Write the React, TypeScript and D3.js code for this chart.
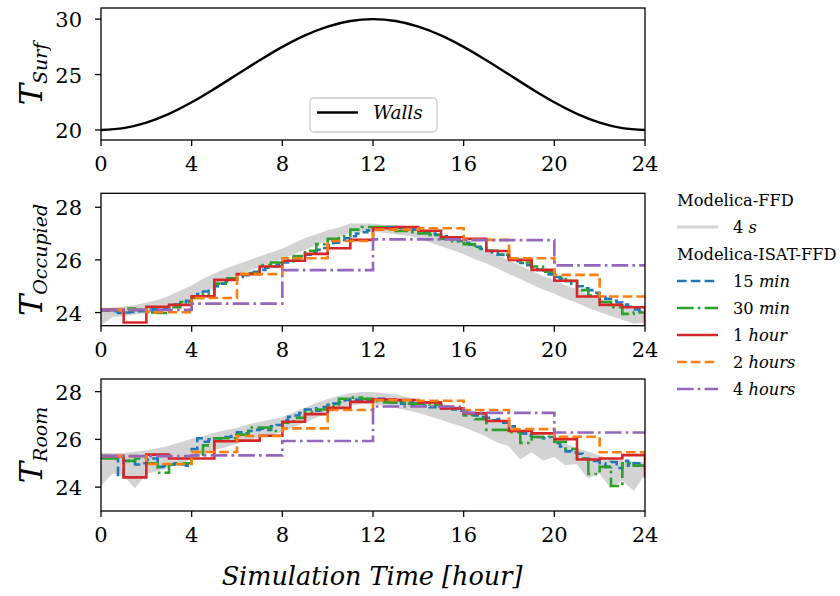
import React from "react";
import * as d3 from "d3";

// ---------------- DATA ----------------
const xTicks = [0, 4, 8, 12, 16, 20, 24];
const surfTicks = [20, 25, 30];
const tempTicks = [24, 26, 28];

// hourly wall surface temperature (0..24 h)
const wallsTemp = [20.0, 20.17, 20.67, 21.46, 22.5, 23.71, 25.0, 26.29, 27.5, 28.54, 29.33, 29.83, 30.0,
  29.83, 29.33, 28.54, 27.5, 26.29, 25.0, 23.71, 22.5, 21.46, 20.67, 20.17, 20.0];

// ---- Occupied zone ----
// Modelica-FFD 4 s: envelope every 0.5 h (0..24)
const occGrayUpper = [24.15, 24.15, 24.2, 24.25, 24.35, 24.45, 24.6, 24.8, 25.0, 25.25, 25.45, 25.65, 25.8, 25.95,
  26.1, 26.25, 26.4, 26.6, 26.8, 26.95, 27.1, 27.2, 27.35, 27.35, 27.35, 27.3, 27.3, 27.25, 27.15, 27.05, 26.95,
  26.8, 26.65, 26.5, 26.3, 26.15, 25.95, 25.75, 25.55, 25.35, 25.2, 25.0, 24.85, 24.65, 24.5, 24.35, 24.2, 24.1, 24.0];
const occGrayLower = [23.55, 23.85, 23.9, 23.95, 24.0, 24.1, 24.25, 24.4, 24.6, 24.8, 25.0, 25.25, 25.45, 25.6,
  25.75, 25.9, 26.05, 26.25, 26.4, 26.6, 26.75, 26.9, 27.05, 27.1, 27.1, 27.05, 27.0, 26.95, 26.85, 26.7, 26.55,
  26.4, 26.25, 26.05, 25.9, 25.7, 25.5, 25.3, 25.1, 24.9, 24.75, 24.55, 24.4, 24.2, 24.05, 23.9, 23.75, 23.6, 23.65];
// 15 min
const occ15 = [24.08, 24.08, 24.05, 23.98, 24.0, 24.02, 24.05, 24.05, 24.1, 24.12, 24.15, 24.18,
  24.25, 24.3, 24.38, 24.45, 24.6, 24.7, 24.8, 24.88, 25.0, 25.1, 25.18, 25.25, 25.35, 25.42, 25.5, 25.55,
  25.62, 25.7, 25.75, 25.82, 25.9, 26.0, 26.05, 26.12, 26.2, 26.3, 26.38, 26.45, 26.55, 26.65, 26.75, 26.82,
  26.9, 27.0, 27.05, 27.12, 27.18, 27.22, 27.25, 27.25, 27.22, 27.2, 27.18, 27.15, 27.1, 27.05, 27.0, 26.95,
  26.9, 26.85, 26.78, 26.72, 26.65, 26.58, 26.5, 26.42, 26.35, 26.28, 26.2, 26.12, 26.05, 25.95, 25.88, 25.8,
  25.72, 25.62, 25.55, 25.45, 25.35, 25.28, 25.2, 25.1, 25.0, 24.92, 24.85, 24.75, 24.6, 24.52, 24.45, 24.38,
  24.3, 24.22, 24.12, 24.05];
// 30 min
const occ30 = [24.1, 24.1, 24.15, 24.1, 24.0, 23.98, 24.2, 24.4, 24.55, 24.7, 25.1, 25.3, 25.45, 25.5, 25.8, 25.9,
  25.95, 26.15, 26.35, 26.6, 26.8, 26.9, 27.15, 27.25, 27.25, 27.2, 27.1, 27.05, 27.0, 26.95, 26.8, 26.7,
  26.6, 26.45, 26.35, 26.2, 26.05, 25.9, 25.75, 25.55, 25.35, 25.2, 24.85, 24.65, 24.4, 24.2, 23.95, 24.0];
// 1 hour (last value = level at 24 h)
const occ1h = [24.1, 23.62, 24.22, 24.29, 24.62, 25.24, 25.46, 25.75, 25.97, 26.23, 26.44, 26.76, 27.2, 27.25,
  27.11, 26.86, 26.8, 26.34, 26.0, 25.62, 25.21, 24.61, 24.29, 24.2, 23.4];
// 2 hours
const occ2h = [24.1, 24.01, 24.55, 25.46, 26.06, 26.72, 27.15, 27.2, 26.76, 26.06, 25.43, 24.61];
// 4 hours
const occ4h = [24.1, 24.34, 25.61, 26.78, 26.75, 25.79];

// ---- Room ----
const roomGrayUpper = [25.4, 25.4, 25.4, 25.45, 25.5, 25.6, 25.7, 25.85, 26.0, 26.1, 26.25, 26.35, 26.45, 26.6,
  26.7, 26.8, 26.9, 27.1, 27.3, 27.5, 27.65, 27.8, 27.9, 27.95, 27.95, 27.9, 27.85, 27.75, 27.65, 27.55, 27.45,
  27.4, 27.3, 27.15, 26.95, 26.75, 26.55, 26.4, 26.2, 26.1, 25.95, 25.8, 25.6, 25.45, 25.3, 25.15, 25.1, 25.05, 25.0];
const roomGrayLower = [24.1, 24.6, 24.5, 24.0, 24.6, 24.7, 24.85, 25.0, 25.2, 25.4, 25.6, 25.7, 25.85, 26.0,
  26.1, 26.2, 26.35, 26.55, 26.75, 26.95, 27.15, 27.35, 27.45, 27.5, 27.5, 27.45, 27.35, 27.25, 27.15, 27.0, 26.85,
  26.7, 26.55, 26.35, 26.15, 25.9, 25.75, 25.2, 25.5, 25.15, 25.3, 24.95, 25.0, 24.4, 24.6, 24.0, 24.3, 23.9, 24.6];
const room15 = [25.3, 25.3, 25.3, 24.45, 25.1, 25.1, 24.95, 25.0, 25.15, 25.2, 24.85, 24.9,
  24.95, 25.0, 24.95, 24.9, 25.6, 26.05, 25.9, 26.0, 26.05, 26.0, 26.1, 26.2, 26.3, 26.25, 26.35, 26.4,
  26.45, 26.4, 26.55, 26.6, 26.8, 26.95, 27.0, 27.1, 27.25, 27.3, 27.2, 27.35, 27.45, 27.5, 27.55, 27.65,
  27.7, 27.65, 27.7, 27.6, 27.65, 27.7, 27.6, 27.55, 27.6, 27.5, 27.55, 27.45, 27.5, 27.4, 27.35, 27.45,
  27.3, 27.35, 27.25, 27.2, 27.15, 27.05, 27.0, 26.95, 26.9, 26.8, 26.85, 26.7, 26.55, 26.4, 26.25, 26.15,
  26.25, 26.1, 26.05, 26.1, 25.85, 25.7, 25.5, 25.45, 25.4, 25.2, 25.15, 25.1, 25.0, 24.85, 25.05, 24.8,
  25.1, 24.9, 25.0, 24.9];
const room30 = [25.2, 25.2, 25.1, 25.2, 25.0, 24.6, 24.95, 25.0, 25.35, 25.75, 26.05, 26.05, 26.2, 26.5, 26.5, 26.35,
  26.7, 26.9, 27.15, 27.25, 27.4, 27.7, 27.75, 27.7, 27.6, 27.55, 27.55, 27.5, 27.5, 27.45, 27.35, 27.3,
  27.0, 26.85, 26.4, 26.4, 26.3, 25.85, 26.1, 26.1, 25.9, 25.6, 25.2, 24.55, 24.85, 24.05, 25.0, 24.9];
const room1h = [25.3, 24.41, 25.36, 25.2, 25.2, 25.92, 25.95, 26.15, 26.74, 27.06, 27.32, 27.57, 27.67, 27.65,
  27.55, 27.3, 27.09, 26.77, 26.35, 26.25, 26.01, 25.16, 25.2, 25.34, 24.4];
const room2h = [25.3, 24.97, 25.47, 26.14, 26.46, 27.23, 27.64, 27.62, 27.23, 26.43, 26.11, 25.46];
const room4h = [25.3, 25.33, 25.93, 27.38, 27.11, 26.29];

// ---------------- STYLE ----------------
const LEFT = 101;
const RIGHT = 645;
const FONT = "DejaVu Serif";
const LW = 2.6;
const C = {
  gray: "#d3d3d3",
  blue: "#1f77b4",
  green: "#2ca02c",
  red: "#d62728",
  orange: "#ff7f0e",
  purple: "#9467bd",
};
const DASH = "9.6,4.2";
const DASHDOT = "16.6,4.2,2.6,4.2";

const x = d3.scaleLinear().domain([0, 24]).range([LEFT, RIGHT]);

type Step = { values: number[]; step: number; color: string; dash?: string; extraEnd?: boolean };

function stepPoints(values: number[], step: number, extraEnd?: boolean): [number, number][] {
  const pts: [number, number][] = [];
  const n = extraEnd ? values.length - 1 : values.length;
  for (let i = 0; i < n; i++) pts.push([i * step, values[i]]);
  pts.push([24, extraEnd ? values[values.length - 1] : values[n - 1]]);
  return pts;
}

function Axes({ top, bottom, domain, yTicks }: { top: number; bottom: number; domain: [number, number]; yTicks: number[] }) {
  const y = d3.scaleLinear().domain(domain).range([bottom, top]);
  return (
    <g>
      <rect x={LEFT} y={top} width={RIGHT - LEFT} height={bottom - top} fill="none" stroke="#000" strokeWidth={1.3} />
      {xTicks.map((t) => (
        <g key={"x" + t}>
          <line x1={x(t)} x2={x(t)} y1={bottom} y2={bottom + 6} stroke="#000" strokeWidth={1.3} />
          <text x={x(t)} y={bottom + 31} textAnchor="middle" fontSize={21} fontFamily={FONT}>{t}</text>
        </g>
      ))}
      {yTicks.map((t) => (
        <g key={"y" + t}>
          <line x1={LEFT - 6} x2={LEFT} y1={y(t)} y2={y(t)} stroke="#000" strokeWidth={1.3} />
          <text x={LEFT - 19} y={y(t) + 8} textAnchor="end" fontSize={21} fontFamily={FONT}>{t}</text>
        </g>
      ))}
    </g>
  );
}

function DataPanel({ id, top, bottom, domain, upper, lower, series }: {
  id: string; top: number; bottom: number; domain: [number, number]; upper: number[]; lower: number[]; series: Step[];
}) {
  const y = d3.scaleLinear().domain(domain).range([bottom, top]);
  const band = d3
    .area<number>()
    .x((_, i) => x(i * 0.5))
    .y0((_, i) => y(lower[i]))
    .y1((d) => y(d));
  const line = d3.line<[number, number]>().x((d) => x(d[0])).y((d) => y(d[1])).curve(d3.curveStepAfter);
  return (
    <g>
      <defs>
        <clipPath id={"clip" + id}>
          <rect x={LEFT} y={top} width={RIGHT - LEFT} height={bottom - top} />
        </clipPath>
      </defs>
      <g clipPath={`url(#clip${id})`}>
        <path d={band(upper) || ""} fill={C.gray} stroke={C.gray} strokeWidth={1.5} />
        {series.map((s, i) => (
          <path
            key={i}
            d={line(stepPoints(s.values, s.step, s.extraEnd)) || ""}
            fill="none"
            stroke={s.color}
            strokeWidth={LW}
            strokeDasharray={s.dash}
          />
        ))}
      </g>
      <Axes top={top} bottom={bottom} domain={domain} yTicks={tempTicks} />
    </g>
  );
}

function YLabel({ cx, cy, sub }: { cx: number; cy: number; sub: string }) {
  return (
    <text transform={`translate(${cx},${cy}) rotate(-90)`} textAnchor="middle" fontFamily={FONT} fontStyle="italic">
      <tspan fontSize={32}>T</tspan>
      <tspan fontSize={19} dy={5}>{sub}</tspan>
    </text>
  );
}

export default function App() {
  const topY = d3.scaleLinear().domain([19.1, 31.0]).range([140, 8]);
  const wallLine = d3
    .line<number>()
    .x((_, i) => x(i))
    .y((d) => topY(d))
    .curve(d3.curveCatmullRom);

  const legendItems = [
    { kind: "title", label: "Modelica-FFD" },
    { kind: "line", num: "4 ", unit: "s", color: C.gray, dash: undefined },
    { kind: "title", label: "Modelica-ISAT-FFD" },
    { kind: "line", num: "15 ", unit: "min", color: C.blue, dash: DASH },
    { kind: "line", num: "30 ", unit: "min", color: C.green, dash: DASHDOT },
    { kind: "line", num: "1 ", unit: "hour", color: C.red, dash: undefined },
    { kind: "line", num: "2 ", unit: "hours", color: C.orange, dash: DASH },
    { kind: "line", num: "4 ", unit: "hours", color: C.purple, dash: DASHDOT },
  ];

  const occSeries: Step[] = [
    { values: occ15, step: 0.25, color: C.blue, dash: DASH },
    { values: occ30, step: 0.5, color: C.green, dash: DASHDOT },
    { values: occ1h, step: 1, color: C.red, extraEnd: true },
    { values: occ2h, step: 2, color: C.orange, dash: DASH },
    { values: occ4h, step: 4, color: C.purple, dash: DASHDOT },
  ];
  const roomSeries: Step[] = [
    { values: room15, step: 0.25, color: C.blue, dash: DASH },
    { values: room30, step: 0.5, color: C.green, dash: DASHDOT },
    { values: room1h, step: 1, color: C.red, extraEnd: true },
    { values: room2h, step: 2, color: C.orange, dash: DASH },
    { values: room4h, step: 4, color: C.purple, dash: DASHDOT },
  ];

  return (
    <svg width={840} height={596} style={{ position: "absolute", left: 0, top: 0, background: "#fff" }} fontFamily={FONT}>
      <rect width={840} height={596} fill="#fff" />
      {/* top panel */}
      <path d={wallLine(wallsTemp) || ""} fill="none" stroke="#000" strokeWidth={2.4} />
      <Axes top={8} bottom={140} domain={[19.1, 31.0]} yTicks={surfTicks} />
      <rect x={310} y={98} width={127} height={34} rx={4} fill="#fff" fillOpacity={0.8} stroke="#cccccc" strokeWidth={1.3} />
      <line x1={317} x2={358} y1={112.5} y2={112.5} stroke="#000" strokeWidth={2.4} />
      <text x={373} y={118.5} fontSize={18.5} fontFamily={FONT} fontStyle="italic">Walls</text>
      <YLabel cx={42} cy={74} sub="Surf" />

      <DataPanel id="occ" top={193.3} bottom={325.7} domain={[23.5, 28.53]} upper={occGrayUpper} lower={occGrayLower} series={occSeries} />
      <YLabel cx={42} cy={260} sub="Occupied" />

      <DataPanel id="room" top={379} bottom={511} domain={[23.0, 28.53]} upper={roomGrayUpper} lower={roomGrayLower} series={roomSeries} />
      <YLabel cx={42} cy={445} sub="Room" />

      <text x={372} y={585} textAnchor="middle" fontSize={25.5} fontFamily={FONT} fontStyle="italic">
        Simulation Time [hour]
      </text>

      {/* outside legend */}
      {legendItems.map((it, i) => {
        const cy = 200 + i * 27;
        if (it.kind === "title")
          return (
            <text key={i} x={677} y={cy + 6} fontSize={16.3} fontFamily={FONT}>{it.label}</text>
          );
        return (
          <g key={i}>
            <line x1={677} x2={718} y1={cy} y2={cy} stroke={it.color} strokeWidth={it.color === C.gray ? 3 : LW} strokeDasharray={it.dash} />
            <text x={733} y={cy + 6} fontSize={16.3} fontFamily={FONT}>
              {it.num}
              <tspan fontStyle="italic">{it.unit}</tspan>
            </text>
          </g>
        );
      })}
    </svg>
  );
}
